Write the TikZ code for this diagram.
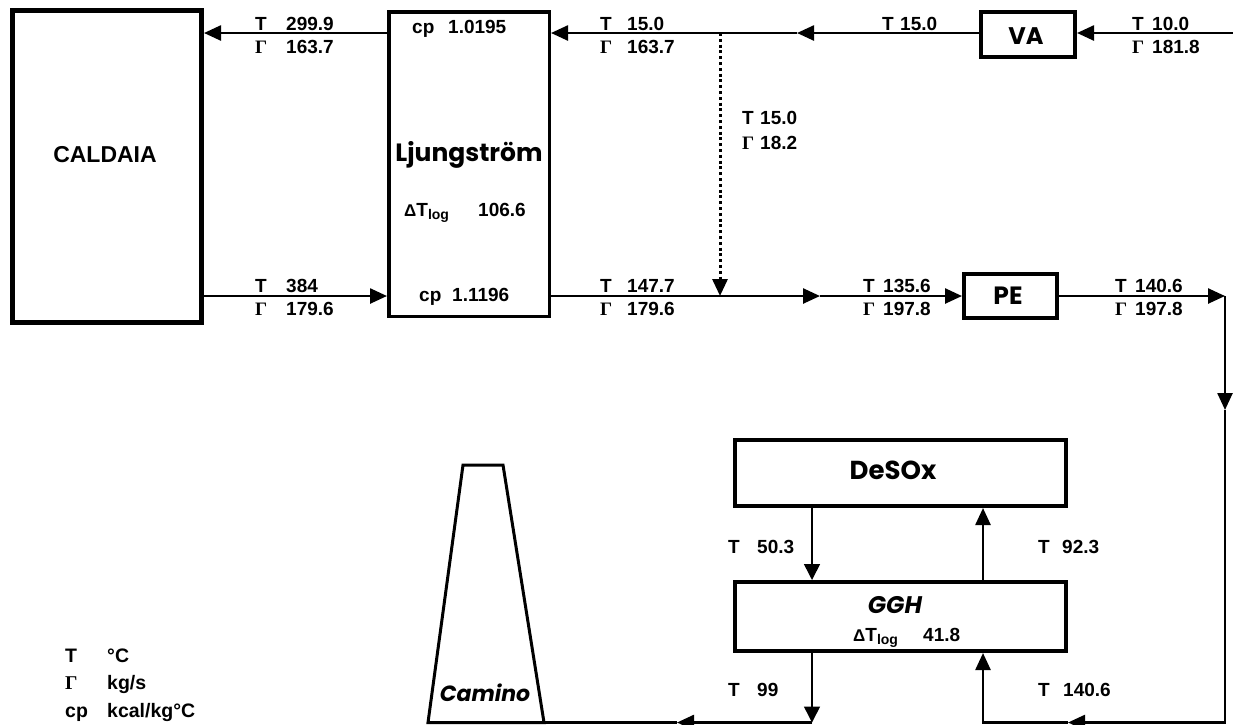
\documentclass[tikz,border=0pt]{standalone}
\usepackage{fontspec}
\setmainfont{Liberation Sans}
\newfontfamily\serifG{Liberation Serif}
\newfontfamily\comic{Poppins}
\usetikzlibrary{arrows.meta}
\newcommand\Gm{{\serifG\bfseries Γ}}
\newcommand\sv[3]{\makebox[#1pt][l]{#2}#3}
\newcommand\dtlog{{\fontsize{17}{17}\selectfont Δ}T\raisebox{-3pt}{\fontsize{14}{14}\selectfont log}}
\tikzset{
 box/.style={draw, rectangle, inner sep=0pt, line width=4pt},
 lab/.style={inner sep=0pt, anchor=west, align=left, font=\bfseries\fontsize{19}{23}\selectfont},
 leg/.style={inner sep=0pt, anchor=base west, font=\bfseries\fontsize{19.5}{19.5}\selectfont},
 comictxt/.style={inner sep=0pt, font=\comic\bfseries\fontsize{24}{24}\selectfont},
 flow/.style={line width=2.5pt, -{Triangle[length=17pt,width=15pt]}},
 plainflow/.style={line width=2.5pt},
 thinflow/.style={line width=1.5pt, -{Triangle[length=16pt,width=16pt]}},
 dotflow/.style={line width=3pt, dash pattern=on 3pt off 2.8pt, -{Triangle[length=17pt,width=15pt]}},
}
\begin{document}
\begin{tikzpicture}[x=1pt,y=-1pt]
\path[use as bounding box, fill=white] (0,0) rectangle (1233,724);
% boxes
\node[box, line width=5pt, minimum width=189pt, minimum height=312pt] (cal) at (107,166.5) {};
\node[box, line width=3.5pt, minimum width=160.5pt, minimum height=304.5pt] (lj) at (469,164) {};
\node[box, minimum width=94pt, minimum height=45pt] (va) at (1028,34.5) {};
\node[box, minimum width=93pt, minimum height=44pt] (pe) at (1010.5,296) {};
\node[box, minimum width=331pt, minimum height=66pt] (desox) at (900.5,473) {};
\node[box, minimum width=331pt, minimum height=69pt] (ggh) at (900.5,616.5) {};
% box texts
\node[inner sep=0pt, font=\bfseries\fontsize{23}{23}\selectfont] (caltxt) at (105,155) {CALDAIA};
\node[comictxt, font=\comic\bfseries\fontsize{25}{25}\selectfont] (ljtxt) at (469,155) {Ljungström};
\node[comictxt] (vatxt) at (1026,36) {VA};
\node[comictxt, font=\comic\bfseries\fontsize{25}{25}\selectfont] (petxt) at (1008,296) {PE};
\node[comictxt, font=\comic\bfseries\fontsize{26}{26}\selectfont] (desoxtxt) at (893,470) {DeSOx};
\node[comictxt, font=\comic\bfseries\itshape\fontsize{24}{24}\selectfont] (gghtxt) at (895,605) {GGH};
\node[comictxt, font=\comic\bfseries\itshape\fontsize{22}{22}\selectfont] (camtxt) at (485,693) {Camino};
\node[lab] (cp1) at (412,29) {\sv{36}{cp}{1.0195}};
\node[lab] (cp2) at (419,297) {\sv{33}{cp}{1.1196}};
\node[lab] (dt1) at (404,213) {\sv{74}{\dtlog}{106.6}};
\node[lab] (dt2) at (853,638) {\sv{70}{\dtlog}{41.8}};
% coordinates
\coordinate (ytop) at (0,33);
\coordinate (ybot) at (0,296);
\coordinate (m1) at (797,33);
\coordinate (j1) at (720,33);
\coordinate (j2) at (720,296);
\coordinate (m2) at (820,296);
\coordinate (inR) at (1240,33);
\coordinate (c1) at (1225,296);
\coordinate (c2) at (1225,410);
\coordinate (c3) at (1225,722.5);
\coordinate (m3) at (1068,722.5);
\coordinate (c4) at (983,722.5);
\coordinate (c5) at (812,722.5);
\coordinate (m4) at (677,722.5);
\coordinate (camBR) at (544,722.5);
% connectors
\draw[flow] (lj.west |- ytop) -- (cal.east |- ytop);
\draw[flow] (cal.east |- ybot) -- (lj.west |- ybot);
\draw[flow] (va.west |- ytop) -- (m1);
\draw[flow] (m1) -- (lj.east |- ytop);
\draw[flow] (inR) -- (va.east |- ytop);
\draw[dotflow] (j1) -- (j2);
\draw[flow] (lj.east |- ybot) -- (m2);
\draw[flow] (m2) -- (pe.west);
\draw[flow] (pe.east) -- (c1);
\draw[flow] (c1) -- (c2);
\draw[flow] (c2) -- (c3) -- (m3);
\draw[flow] (m3) -- (c4) -- (ggh.south -| c4);
\draw[thinflow] (desox.south -| c5) -- (ggh.north -| c5);
\draw[flow] (ggh.north -| c4) -- (desox.south -| c4);
\draw[thinflow] (ggh.south -| c5) -- (c5);
\draw[flow] (c5) -- (m4);
\draw[plainflow] (m4) -- (camBR);
% chimney
\draw[line width=3pt, line join=miter] (428,722.5) -- (463,465) -- (503,465) -- (camBR) -- cycle;
% stream labels
\node[lab] (l1) at (255,35.5) {\sv{31}{T}{299.9}\\\sv{31}{\Gm}{163.7}};
\node[lab] (l2) at (255,297.5) {\sv{31}{T}{384}\\\sv{31}{\Gm}{179.6}};
\node[lab] (l3) at (600,35.5) {\sv{27}{T}{15.0}\\\sv{27}{\Gm}{163.7}};
\node[lab] (l4) at (600,297.5) {\sv{27}{T}{147.7}\\\sv{27}{\Gm}{179.6}};
\node[lab] (l5) at (742,130.5) {\sv{18}{T}{15.0}\\[2pt]\sv{18}{\Gm}{18.2}};
\node[lab] (l6) at (882,24) {\sv{18}{T}{15.0}};
\node[lab] (l7) at (1132,35.5) {\sv{20}{T}{10.0}\\\sv{20}{\Gm}{181.8}};
\node[lab] (l8) at (863,297) {\sv{20}{T}{135.6}\\\sv{20}{\Gm}{197.8}};
\node[lab] (l9) at (1115,297) {\sv{20}{T}{140.6}\\\sv{20}{\Gm}{197.8}};
\node[lab] (l10) at (728,547) {\sv{29}{T}{50.3}};
\node[lab] (l11) at (1038,547) {\sv{24}{T}{92.3}};
\node[lab] (l12) at (728,690) {\sv{29}{T}{99}};
\node[lab] (l13) at (1038,690) {\sv{25}{T}{140.6}};
% legend
\node[leg] (lg1) at (65,662) {\makebox[42pt][l]{T}°C};
\node[leg] (lg2) at (65,689) {\makebox[42pt][l]{\Gm}kg/s};
\node[leg] (lg3) at (65,717) {\makebox[42pt][l]{cp}kcal/kg°C};
\end{tikzpicture}
\end{document}
